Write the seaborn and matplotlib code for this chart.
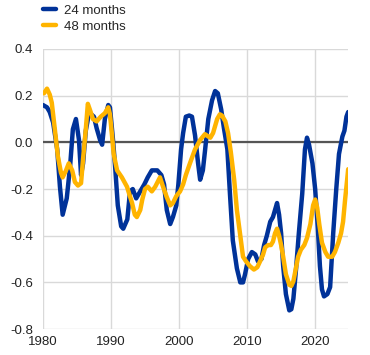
import numpy as np
import pandas as pd
import matplotlib
matplotlib.use("Agg")
import matplotlib.pyplot as plt
import seaborn as sns

# 24 months series (year, value)
years_24 = [1980.0, 1980.6, 1981.0, 1981.5, 1982.1, 1982.5, 1982.9, 1983.5, 1984.0, 1984.4,
            1984.85, 1985.3, 1985.6, 1985.9, 1986.3, 1986.8, 1987.1, 1987.5, 1987.9, 1988.4,
            1988.7, 1989.1, 1989.6, 1989.85, 1990.3, 1990.6, 1991.0, 1991.5, 1991.8, 1992.4,
            1992.8, 1993.2, 1993.7, 1994.3, 1994.9, 1995.4, 1996.0, 1996.8, 1997.4, 1997.8,
            1998.2, 1998.7, 1999.1, 1999.6, 1999.9, 2000.3, 2000.6, 2001.0, 2001.5, 2001.9,
            2002.35, 2002.8, 2003.1, 2003.5, 2003.8, 2004.3, 2004.85, 2005.3, 2005.7, 2006.2,
            2006.6, 2007.1, 2007.5, 2007.9, 2008.5, 2009.0, 2009.4, 2009.7, 2010.15, 2010.7,
            2011.2, 2011.6, 2012.1, 2012.5, 2012.9, 2013.4, 2013.8, 2014.1, 2014.4, 2014.7,
            2015.0, 2015.3, 2015.7, 2016.2, 2016.5, 2016.8, 2017.2, 2017.6, 2018.1, 2018.5,
            2018.8, 2019.1, 2019.6, 2020.0, 2020.4, 2020.7, 2021.0, 2021.3, 2021.8, 2022.2,
            2022.65, 2023.1, 2023.5, 2024.0, 2024.3, 2024.6, 2024.85]
values_24 = [0.16, 0.15, 0.13, 0.085, -0.03, -0.19, -0.31, -0.24, -0.10, 0.056,
             0.10, 0.01, -0.14, -0.09, 0.05, 0.13, 0.12, 0.11, 0.06, 0.01,
             -0.01, 0.10, 0.16, 0.15, 0.01, -0.10, -0.27, -0.36, -0.37, -0.33,
             -0.21, -0.20, -0.24, -0.21, -0.18, -0.15, -0.12, -0.12, -0.14, -0.18,
             -0.29, -0.35, -0.32, -0.27, -0.18, -0.03, 0.04, 0.11, 0.115, 0.11,
             0.03, -0.09, -0.16, -0.12, -0.04, 0.10, 0.18, 0.22, 0.21, 0.14,
             0.06, -0.03, -0.23, -0.42, -0.54, -0.60, -0.60, -0.565, -0.50, -0.47,
             -0.48, -0.51, -0.50, -0.44, -0.40, -0.34, -0.32, -0.29, -0.26, -0.31,
             -0.39, -0.53, -0.65, -0.72, -0.715, -0.67, -0.54, -0.39, -0.22, -0.03,
             0.02, -0.01, -0.09, -0.20, -0.37, -0.53, -0.63, -0.66, -0.65, -0.62,
             -0.39, -0.20, -0.05, 0.025, 0.05, 0.11, 0.13]

# 48 months series
years_48 = [1980.15, 1980.6, 1981.0, 1981.3, 1981.75, 1982.2, 1982.65, 1982.9, 1983.4, 1983.8,
            1984.3, 1984.7, 1985.15, 1985.6, 1985.9, 1986.3, 1986.6, 1986.9, 1987.35, 1987.9,
            1988.5, 1989.1, 1989.6, 1989.85, 1990.15, 1990.4, 1990.9, 1991.6, 1992.35, 1993.1,
            1993.5, 1993.8, 1994.3, 1994.6, 1995.0, 1995.4, 1996.0, 1996.5, 1997.2, 1997.65,
            1998.2, 1998.7, 1999.1, 1999.6, 2000.15, 2000.6, 2001.0, 2001.6, 2002.35, 2003.1,
            2003.8, 2004.3, 2004.6, 2005.0, 2005.6, 2006.0, 2006.3, 2006.8, 2007.2, 2007.6,
            2008.1, 2008.5, 2009.0, 2009.4, 2009.85, 2010.4, 2011.0, 2011.5, 2011.9, 2012.35,
            2012.65, 2013.1, 2013.5, 2013.8, 2014.1, 2014.4, 2014.7, 2015.0, 2015.3, 2015.7,
            2016.2, 2016.5, 2016.8, 2017.1, 2017.5, 2017.9, 2018.4, 2018.8, 2019.3, 2019.7,
            2020.0, 2020.3, 2020.6, 2021.0, 2021.5, 2021.9, 2022.5, 2022.9, 2023.4, 2023.8,
            2024.1, 2024.4, 2024.7, 2024.85]
values_48 = [0.21, 0.23, 0.205, 0.17, 0.056, -0.06, -0.13, -0.15, -0.12, -0.09,
             -0.12, -0.17, -0.185, -0.175, -0.07, 0.056, 0.165, 0.14, 0.10, 0.09,
             0.11, 0.125, 0.15, 0.12, 0.03, -0.05, -0.12, -0.15, -0.19, -0.26,
             -0.31, -0.32, -0.29, -0.245, -0.20, -0.19, -0.21, -0.19, -0.15, -0.19,
             -0.235, -0.27, -0.26, -0.23, -0.21, -0.18, -0.14, -0.09, -0.03, 0.01,
             0.035, 0.025, 0.02, 0.04, 0.10, 0.12, 0.115, 0.09, 0.04, -0.04,
             -0.16, -0.29, -0.40, -0.49, -0.51, -0.53, -0.545, -0.535, -0.51, -0.48,
             -0.45, -0.44, -0.44, -0.425, -0.39, -0.37, -0.40, -0.44, -0.49, -0.565,
             -0.61, -0.615, -0.595, -0.55, -0.49, -0.46, -0.44, -0.41, -0.35, -0.27,
             -0.245, -0.28, -0.35, -0.43, -0.47, -0.49, -0.49, -0.47, -0.43, -0.39,
             -0.34, -0.245, -0.16, -0.115]

series_names = ["24 months", "48 months"]
series_colors = ["#003299", "#FFB400"]
x_ticks = [1980, 1990, 2000, 2010, 2020]
y_ticks = [-0.8, -0.6, -0.4, -0.2, 0.0, 0.2, 0.4]

df = pd.concat([
    pd.DataFrame({"year": years_24, "value": values_24, "series": series_names[0]}),
    pd.DataFrame({"year": years_48, "value": values_48, "series": series_names[1]}),
])

sns.set_style("white")
plt.rcParams["font.family"] = ["Liberation Sans", "DejaVu Sans"]
plt.rcParams["axes.unicode_minus"] = False

fig = plt.figure(figsize=(3.7, 3.55), dpi=100)
ax = fig.add_axes([0.116, 0.073, 0.825, 0.789])

ax.axhline(0, color="#555555", lw=1.6, zorder=2)
sns.lineplot(data=df, x="year", y="value", hue="series", hue_order=series_names,
             palette=series_colors, lw=3.2, ax=ax, sort=False, estimator=None,
             zorder=3, legend=False)

ax.set_xlim(1980, 2024.85)
ax.set_ylim(-0.8, 0.4)
ax.set_xticks(x_ticks)
ax.set_yticks(y_ticks)
ax.set_yticklabels([f"{v:.1f}" for v in y_ticks])
ax.grid(True, color="#d9d9d9", lw=1.0, zorder=0)
ax.set_axisbelow(True)
for s in ax.spines.values():
    s.set_visible(False)
ax.tick_params(axis="both", length=0, labelsize=9.5, colors="#222222")
ax.tick_params(axis="y", pad=7)
ax.tick_params(axis="x", pad=5)
ax.set_xlabel("")
ax.set_ylabel("")

from matplotlib.lines import Line2D
handles = [Line2D([0], [0], color=c, lw=3.2) for c in series_colors]
fig.legend(handles, series_names, loc="upper left", bbox_to_anchor=(0.095, 1.01),
           frameon=False, fontsize=9.5, handlelength=1.0, handletextpad=0.6,
           labelspacing=0.3, borderaxespad=0.2)

fig.savefig("out.png", dpi=100)
